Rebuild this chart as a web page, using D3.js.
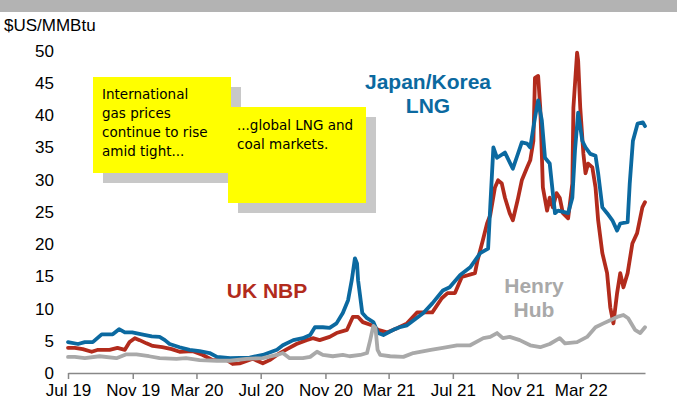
<!DOCTYPE html>
<html>
<head>
<meta charset="utf-8">
<script src="https://cdn.jsdelivr.net/npm/d3@7"></script>
<style>
  body { margin: 0; background: #fff; }
  svg { display: block; font-family: "Liberation Sans", Arial, sans-serif; }
</style>
</head>
<body>
<svg width="677" height="403"></svg>
<script>
// Japan/Korea LNG
var jkm = [
  ["2019-07-01", 4.8], ["2019-07-20", 4.5], ["2019-08-02", 4.8], ["2019-08-17", 4.8],
  ["2019-09-03", 6.0], ["2019-09-24", 6.0], ["2019-10-06", 6.8], ["2019-10-17", 6.3],
  ["2019-10-31", 6.3], ["2019-11-18", 6.0], ["2019-12-07", 5.7], ["2019-12-22", 5.6],
  ["2020-01-01", 5.1], ["2020-01-10", 4.5], ["2020-01-29", 4.0], ["2020-02-17", 3.6],
  ["2020-03-07", 3.4], ["2020-03-26", 3.1], ["2020-04-09", 2.5], ["2020-05-04", 2.3],
  ["2020-06-10", 2.4], ["2020-07-05", 2.8], ["2020-08-01", 3.6], ["2020-08-12", 4.3],
  ["2020-09-01", 5.1], ["2020-09-19", 5.4], ["2020-10-03", 5.9], ["2020-10-12", 7.1],
  ["2020-10-27", 7.1], ["2020-11-09", 7.0], ["2020-11-22", 7.7], ["2020-12-04", 9.3],
  ["2020-12-14", 11.3], ["2020-12-21", 14.4], ["2020-12-27", 17.8], ["2020-12-31", 17.0],
  ["2021-01-02", 14.4], ["2021-01-10", 9.3], ["2021-01-19", 8.5], ["2021-01-31", 7.9],
  ["2021-02-09", 6.2], ["2021-02-19", 5.9], ["2021-03-10", 6.7], ["2021-03-22", 7.1],
  ["2021-04-05", 7.4], ["2021-05-06", 9.3], ["2021-05-23", 10.8], ["2021-06-12", 12.8],
  ["2021-06-25", 13.3], ["2021-07-15", 15.2], ["2021-08-03", 16.4], ["2021-08-22", 18.6],
  ["2021-09-06", 19.3], ["2021-09-10", 25.7], ["2021-09-16", 35.0], ["2021-09-23", 33.4],
  ["2021-10-08", 34.2], ["2021-10-23", 31.7], ["2021-11-02", 34.1], ["2021-11-09", 35.8],
  ["2021-11-19", 35.6], ["2021-11-25", 35.0], ["2021-12-04", 39.6], ["2021-12-10", 42.3],
  ["2021-12-17", 39.2], ["2021-12-23", 33.4], ["2022-01-01", 32.5], ["2022-01-05", 29.4],
  ["2022-01-11", 24.8], ["2022-01-17", 25.2], ["2022-02-05", 24.8], ["2022-02-13", 27.2],
  ["2022-02-18", 34.5], ["2022-02-24", 40.4], ["2022-03-04", 36.0], ["2022-03-10", 35.0],
  ["2022-03-19", 34.0], ["2022-03-29", 33.7], ["2022-04-03", 31.0], ["2022-04-11", 25.7],
  ["2022-04-20", 24.8], ["2022-04-30", 23.7], ["2022-05-09", 22.1], ["2022-05-15", 23.2],
  ["2022-05-29", 23.4], ["2022-06-02", 29.4], ["2022-06-08", 36.0], ["2022-06-17", 38.7],
  ["2022-06-27", 38.9], ["2022-07-01", 38.3]
];

// UK NBP
var nbp = [
  ["2019-07-01", 3.9], ["2019-07-14", 3.9], ["2019-07-29", 3.7], ["2019-08-15", 3.3],
  ["2019-08-27", 3.6], ["2019-09-18", 3.6], ["2019-10-03", 3.9], ["2019-10-17", 3.6],
  ["2019-10-26", 4.8], ["2019-11-05", 5.4], ["2019-11-14", 5.1], ["2019-11-27", 4.6],
  ["2019-12-09", 4.2], ["2019-12-27", 4.0], ["2020-01-14", 3.7], ["2020-01-29", 3.3],
  ["2020-02-22", 3.4], ["2020-03-13", 2.8], ["2020-04-01", 2.0], ["2020-04-28", 2.0],
  ["2020-05-09", 1.4], ["2020-05-22", 1.5], ["2020-06-16", 2.2], ["2020-07-05", 1.5],
  ["2020-07-18", 2.0], ["2020-08-01", 2.8], ["2020-08-20", 3.7], ["2020-09-07", 4.5],
  ["2020-09-26", 5.1], ["2020-10-08", 5.4], ["2020-10-21", 5.1], ["2020-11-09", 5.6],
  ["2020-11-22", 6.2], ["2020-12-12", 6.7], ["2020-12-23", 8.7], ["2021-01-02", 8.7],
  ["2021-01-11", 7.9], ["2021-01-28", 7.4], ["2021-02-09", 6.7], ["2021-02-26", 6.3],
  ["2021-03-18", 7.0], ["2021-04-05", 7.7], ["2021-04-24", 9.4], ["2021-05-23", 9.4],
  ["2021-06-10", 11.6], ["2021-06-21", 12.4], ["2021-07-05", 12.4], ["2021-07-18", 14.9],
  ["2021-08-12", 15.5], ["2021-08-17", 17.5], ["2021-08-27", 20.6], ["2021-09-04", 23.2],
  ["2021-09-10", 24.5], ["2021-09-19", 28.8], ["2021-09-25", 29.9], ["2021-10-02", 29.4],
  ["2021-10-08", 27.2], ["2021-10-17", 24.8], ["2021-10-23", 23.7], ["2021-11-01", 26.8],
  ["2021-11-09", 29.9], ["2021-11-19", 31.9], ["2021-11-25", 33.0], ["2021-12-01", 36.0],
  ["2021-12-04", 45.8], ["2021-12-10", 46.1], ["2021-12-14", 41.2], ["2021-12-17", 34.0],
  ["2021-12-19", 28.8], ["2021-12-27", 25.2], ["2022-01-01", 27.2], ["2022-01-07", 25.7],
  ["2022-01-14", 27.9], ["2022-01-20", 27.2], ["2022-01-26", 24.8], ["2022-02-05", 24.0],
  ["2022-02-13", 29.4], ["2022-02-15", 41.2], ["2022-02-22", 49.7], ["2022-02-24", 48.5],
  ["2022-02-28", 41.2], ["2022-03-06", 34.0], ["2022-03-10", 31.0], ["2022-03-15", 32.5],
  ["2022-03-23", 31.9], ["2022-03-29", 28.8], ["2022-04-03", 23.7], ["2022-04-11", 18.6],
  ["2022-04-20", 15.5], ["2022-04-26", 10.2], ["2022-05-02", 7.7], ["2022-05-09", 12.4],
  ["2022-05-15", 15.5], ["2022-05-21", 13.3], ["2022-05-29", 15.5], ["2022-06-07", 20.1],
  ["2022-06-16", 21.7], ["2022-06-26", 25.7], ["2022-07-01", 26.5]
];

// Henry Hub
var henryHub = [
  ["2019-07-01", 2.5], ["2019-07-14", 2.5], ["2019-08-02", 2.3], ["2019-08-30", 2.6],
  ["2019-10-01", 2.3], ["2019-10-20", 2.9], ["2019-11-08", 2.9], ["2019-12-02", 2.6],
  ["2019-12-22", 2.3], ["2020-01-23", 2.2], ["2020-02-10", 2.3], ["2020-03-07", 2.0],
  ["2020-04-09", 1.9], ["2020-05-04", 1.9], ["2020-06-04", 2.2], ["2020-07-05", 2.3],
  ["2020-08-01", 2.8], ["2020-08-12", 3.1], ["2020-08-25", 2.3], ["2020-09-19", 2.3],
  ["2020-10-03", 2.5], ["2020-10-16", 3.3], ["2020-10-27", 2.8], ["2020-11-15", 2.6],
  ["2020-12-04", 2.8], ["2020-12-17", 2.6], ["2021-01-06", 2.8], ["2021-01-19", 3.1],
  ["2021-01-25", 5.1], ["2021-01-31", 7.3], ["2021-02-04", 7.0], ["2021-02-08", 3.6],
  ["2021-02-13", 2.8], ["2021-03-04", 2.6], ["2021-03-29", 2.5], ["2021-04-17", 3.1],
  ["2021-05-20", 3.6], ["2021-06-12", 3.9], ["2021-07-09", 4.3], ["2021-08-03", 4.3],
  ["2021-08-28", 5.4], ["2021-09-10", 5.6], ["2021-09-23", 6.2], ["2021-10-04", 5.4],
  ["2021-10-17", 5.6], ["2021-11-05", 5.1], ["2021-11-25", 4.3], ["2021-12-14", 4.0],
  ["2022-01-01", 4.5], ["2022-01-20", 5.4], ["2022-01-30", 4.6], ["2022-02-22", 4.8],
  ["2022-03-13", 5.6], ["2022-03-29", 7.1], ["2022-04-13", 7.7], ["2022-04-26", 8.2],
  ["2022-05-09", 8.7], ["2022-05-21", 9.0], ["2022-05-30", 8.5], ["2022-06-12", 6.7],
  ["2022-06-22", 6.2], ["2022-07-01", 7.1]
];

var yTicks = [0, 5, 10, 15, 20, 25, 30, 35, 40, 45, 50];
var xTicks = ["2019-07-01", "2019-11-01", "2020-03-01", "2020-07-01", "2020-11-01",
              "2021-03-01", "2021-07-01", "2021-11-01", "2022-03-01"];

var parse = d3.timeParse("%Y-%m-%d");
var svg = d3.select("svg");

// grey band at the top (title strip cut off)
svg.append("rect").attr("x", 0).attr("y", 0).attr("width", 677).attr("height", 12)
  .attr("fill", "#b3b3b3");

var x = d3.scaleTime()
  .domain([parse("2019-07-01"), parse("2022-07-01")])
  .range([68, 645]);
var y = d3.scaleLinear().domain([0, 50]).range([373, 50.8]);

// y axis: labels only
var yAxis = svg.append("g").attr("transform", "translate(68,0)")
  .call(d3.axisLeft(y).tickValues(yTicks).tickSize(0).tickPadding(14));
yAxis.select(".domain").remove();
yAxis.selectAll("text").attr("font-size", 17).attr("fill", "#000")
  .attr("font-family", "Liberation Sans, Arial, sans-serif");

// x axis
var xAxis = svg.append("g").attr("transform", "translate(0,373)")
  .call(d3.axisBottom(x).tickValues(xTicks.map(parse))
    .tickFormat(d3.timeFormat("%b %y")).tickSizeInner(6).tickSizeOuter(0).tickPadding(5));
xAxis.select(".domain").attr("stroke", "#888").attr("stroke-width", 1.5);
xAxis.selectAll(".tick line").attr("stroke", "#888").attr("stroke-width", 1.5);
xAxis.selectAll("text").attr("font-size", 17).attr("fill", "#000")
  .attr("font-family", "Liberation Sans, Arial, sans-serif");

svg.append("text").attr("x", 4).attr("y", 31)
  .attr("font-size", 17).text("$US/MMBtu");

// call-out boxes with shadows
var notes = [
  { x: 93, y: 77, w: 138, h: 96, lines: ["International", "gas prices", "continue to rise", "amid tight..."], tx: 102, ty: 99 },
  { x: 228, y: 107, w: 138, h: 96, lines: ["...global LNG and", "coal markets."], tx: 237, ty: 130 }
];
notes.forEach(function (n) {
  svg.append("rect").attr("x", n.x + 10).attr("y", n.y + 10)
    .attr("width", n.w).attr("height", n.h).attr("fill", "#c8c8c8");
  svg.append("rect").attr("x", n.x).attr("y", n.y)
    .attr("width", n.w).attr("height", n.h).attr("fill", "#ffff00");
  var t = svg.append("text").attr("font-family", "'Comic Sans MS', 'DejaVu Sans', sans-serif")
    .attr("font-size", 13.5).attr("fill", "#000");
  n.lines.forEach(function (s, i) {
    t.append("tspan").attr("x", n.tx).attr("y", n.ty + i * 19).text(s);
  });
});

var line = d3.line()
  .x(function (d) { return x(parse(d[0])); })
  .y(function (d) { return y(d[1]); });

[[nbp, "#b22b1c"], [jkm, "#0b69a0"], [henryHub, "#a9a9a9"]].forEach(function (s) {
  svg.append("path").datum(s[0]).attr("d", line)
    .attr("fill", "none").attr("stroke", s[1]).attr("stroke-width", 3.8)
    .attr("stroke-linejoin", "round").attr("stroke-linecap", "round");
});

// series labels
function label(txt, cx, by, col) {
  svg.append("text").attr("x", cx).attr("y", by).attr("text-anchor", "middle")
    .attr("font-size", 21).attr("font-weight", "bold").attr("fill", col).text(txt);
}
label("Japan/Korea", 428, 89, "#0b69a0");
label("LNG", 428, 113, "#0b69a0");
label("UK NBP", 267, 298, "#b22b1c");
label("Henry", 534, 293, "#a9a9a9");
label("Hub", 534, 317, "#a9a9a9");
</script>
</body>
</html>
